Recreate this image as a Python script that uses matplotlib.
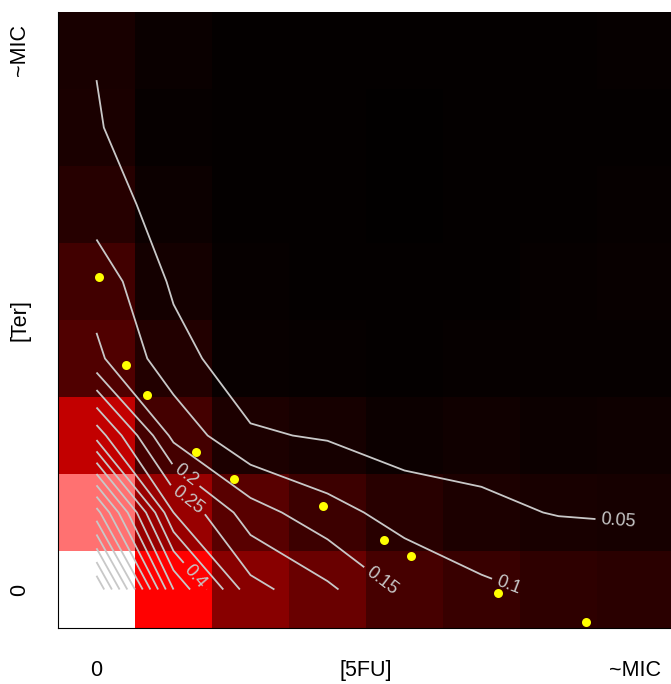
import numpy as np
import matplotlib
matplotlib.use('Agg')
import matplotlib.pyplot as plt
from matplotlib.colors import LinearSegmentedColormap

plt.rcParams['font.family'] = ['Liberation Sans', 'DejaVu Sans']

# effect grid, rows = Ter level (bottom to top), cols = 5FU level (left to right)
z_rows = [
    [1.00, 0.50, 0.268, 0.21, 0.14, 0.11, 0.09, 0.085],
    [0.72, 0.30, 0.172, 0.118, 0.08, 0.058, 0.048, 0.045],
    [0.38, 0.135, 0.056, 0.045, 0.025, 0.034, 0.025, 0.03],
    [0.16, 0.069, 0.018, 0.012, 0.010, 0.012, 0.012, 0.014],
    [0.13, 0.042, 0.012, 0.010, 0.008, 0.010, 0.012, 0.018],
    [0.075, 0.027, 0.010, 0.008, 0.006, 0.010, 0.010, 0.012],
    [0.054, 0.012, 0.010, 0.008, 0.006, 0.008, 0.008, 0.010],
    [0.0475, 0.022, 0.010, 0.010, 0.008, 0.010, 0.010, 0.012],
]
levels = [0.05, 0.1, 0.15, 0.2, 0.25, 0.3, 0.35, 0.4, 0.45, 0.5,
          0.55, 0.6, 0.65, 0.7, 0.75, 0.8, 0.85, 0.9, 0.95]
label_levels = [0.05, 0.1, 0.15, 0.2, 0.25, 0.4]
label_pos = [(6.77, 0.86), (5.35, 0.06), (3.70, 0.10), (1.18, 1.51), (1.22, 1.21), (1.30, 0.19)]

# observed combinations
pts_x = [0.026, 0.377, 0.65, 1.29, 1.79, 2.94, 3.74, 4.08, 5.22, 6.36]
pts_y = [4.06, 2.92, 2.53, 1.78, 1.44, 1.08, 0.64, 0.44, -0.04, -0.42]

xticks = [0, 3.5, 7]
xlabels = ['0', '[5FU]', '~MIC']
yticks = [0, 3.5, 7]
ylabels = ['0', '[Ter]', '~MIC']

Z = np.array(z_rows)
cmap = LinearSegmentedColormap.from_list('brw', ['black', 'red', 'white'])

fig = plt.figure(figsize=(6.71, 6.84), dpi=100)
ax = fig.add_axes([58/671, 56/684, 616/671, 616/684])
ax.imshow(Z, cmap=cmap, vmin=0, vmax=1, origin='lower', extent=(-0.5, 7.5, -0.5, 7.5),
          interpolation='nearest', aspect='auto')
gx = np.arange(8)
plain = [l for l in levels if l not in label_levels]
ax.contour(gx, gx, Z, levels=plain, colors='#c8c8c8', linewidths=1.3)
cs = ax.contour(gx, gx, Z, levels=label_levels, colors='#c8c8c8', linewidths=1.3)
ax.clabel(cs, manual=label_pos, inline=True, fmt='%g',
          fontsize=13, colors='#c8c8c8', inline_spacing=5)
ax.scatter(pts_x, pts_y, s=42, color='yellow', zorder=5, linewidths=0)

ax.set_xlim(-0.5, 7.5)
ax.set_ylim(-0.5, 7.5)
ax.set_xticks(xticks)
ax.set_xticklabels(xlabels)
ax.set_yticks(yticks)
ax.set_yticklabels(ylabels, rotation=90, va='center')
ax.tick_params(length=0, labelsize=15.5)
ax.tick_params(axis='x', pad=23)
ax.tick_params(axis='y', pad=20)
ax.spines['top'].set_visible(False)
ax.spines['right'].set_visible(False)

plt.savefig('out.png', dpi=100)
